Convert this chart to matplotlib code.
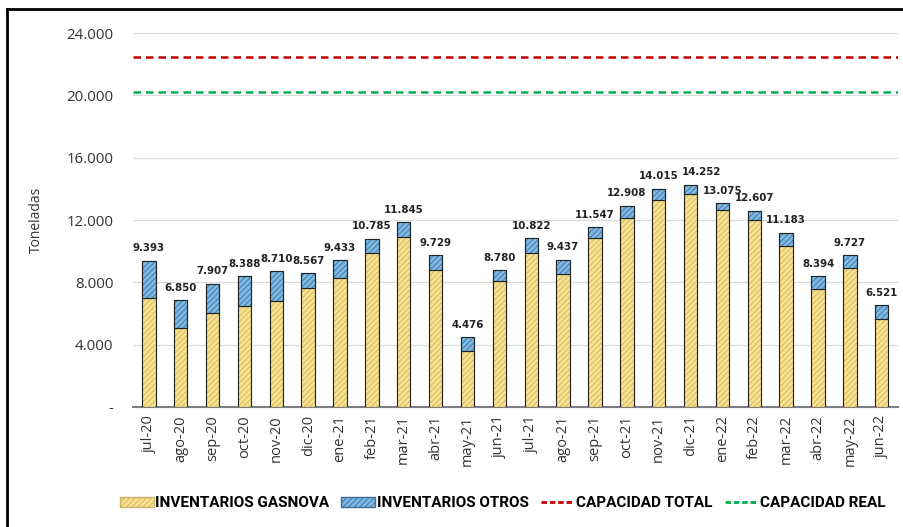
import numpy as np
import matplotlib.pyplot as plt
from matplotlib.patches import Patch
from matplotlib.lines import Line2D

meses = ["jul-20", "ago-20", "sep-20", "oct-20", "nov-20", "dic-20", "ene-21", "feb-21",
         "mar-21", "abr-21", "may-21", "jun-21", "jul-21", "ago-21", "sep-21", "oct-21",
         "nov-21", "dic-21", "ene-22", "feb-22", "mar-22", "abr-22", "may-22", "jun-22"]
totales = [9393, 6850, 7907, 8388, 8710, 8567, 9433, 10785, 11845, 9729, 4476, 8780,
           10822, 9437, 11547, 12908, 14015, 14252, 13075, 12607, 11183, 8394, 9727, 6521]
gasnova = [7010, 5050, 6050, 6500, 6820, 7640, 8280, 9860, 10890, 8790, 3600, 8110,
           9860, 8540, 10870, 12150, 13260, 13650, 12620, 12000, 10360, 7550, 8900, 5650]
cap_total = 22500
cap_real = 20250

otros = [t - g for t, g in zip(totales, gasnova)]
x = np.arange(len(meses))

plt.rcParams['hatch.linewidth'] = 0.6
fig = plt.figure(figsize=(9.04, 5.27), dpi=100)
ax = fig.add_axes([0.147, 0.228, 0.846, 0.709])

amarillo = "#FBE18C"
azul = "#7DB9E3"
ax.bar(x, gasnova, width=0.42, color=amarillo, edgecolor="#c9b26a", linewidth=0.8,
       hatch="//////", zorder=3)
ax.bar(x, otros, width=0.42, bottom=gasnova, color=azul, edgecolor="#3f6f9a",
       linewidth=0.8, hatch="//////", zorder=3)
# contorno negro
ax.bar(x, totales, width=0.42, fill=False, edgecolor="#222222", linewidth=0.8, zorder=4)
ax.plot([x - 0.21, x + 0.21], [gasnova, gasnova], color="#222222", lw=0.8, zorder=5)

ax.axhline(cap_total, color="#C00000", ls=(0, (3, 2)), lw=1.8, zorder=2)
ax.axhline(cap_real, color="#00B050", ls=(0, (3, 2)), lw=1.8, zorder=2)

for xi, t in zip(x, totales):
    dx = 0.35 if t == 14252 else 0
    ax.text(xi + dx, t + 480, f"{t:,}".replace(",", "."), ha="center", va="bottom",
            fontsize=7.4, fontweight="bold", color="#222222")

ax.set_xlim(-0.5, len(meses) - 0.5)
ax.set_ylim(0, 24000)
yt = [0, 4000, 8000, 12000, 16000, 20000, 24000]
ax.set_yticks(yt)
ax.set_yticklabels(["-"] + [f"{v:,}".replace(",", ".") for v in yt[1:]], fontsize=10.8,
                   color="#333333", family="Open Sans")
ax.set_xticks(x)
ax.set_xticklabels(meses, rotation=90, fontsize=10.5, color="#333333", family="Open Sans")
ax.tick_params(length=0, pad=6)
ax.tick_params(axis="y", pad=14)
ax.grid(axis="y", color="#d9d9d9", lw=0.8, zorder=0)
for s in ["top", "right", "left"]:
    ax.spines[s].set_visible(False)
ax.spines["bottom"].set_color("#7f7f7f")
ax.spines["bottom"].set_linewidth(1.5)
ax.set_ylabel("Toneladas", fontsize=10, color="#333333", labelpad=16, family="Open Sans")

handles = [
    Patch(facecolor=amarillo, edgecolor="#c9b26a", hatch="//////", label="INVENTARIOS GASNOVA"),
    Patch(facecolor=azul, edgecolor="#3f6f9a", hatch="//////", label="INVENTARIOS OTROS"),
    Line2D([], [], color="#C00000", ls=(0, (2, 1)), lw=2, label="CAPACIDAD TOTAL"),
    Line2D([], [], color="#00B050", ls=(0, (2, 1)), lw=2, label="CAPACIDAD REAL"),
]
fig.legend(handles=handles, loc="center", bbox_to_anchor=(0.556, 0.045), ncol=4,
           frameon=False, handlelength=2.2, handletextpad=0.1, columnspacing=0.8,
           prop={"family": "Roboto", "weight": "bold", "size": 11})

# marco (bordes superior e izquierdo)
fig.add_artist(Line2D([0.008, 1.0], [0.983, 0.983], color="black", lw=2, transform=fig.transFigure))
fig.add_artist(Line2D([0.008, 0.008], [0.0, 0.983], color="black", lw=2, transform=fig.transFigure))

fig.savefig("out.png", dpi=100)
